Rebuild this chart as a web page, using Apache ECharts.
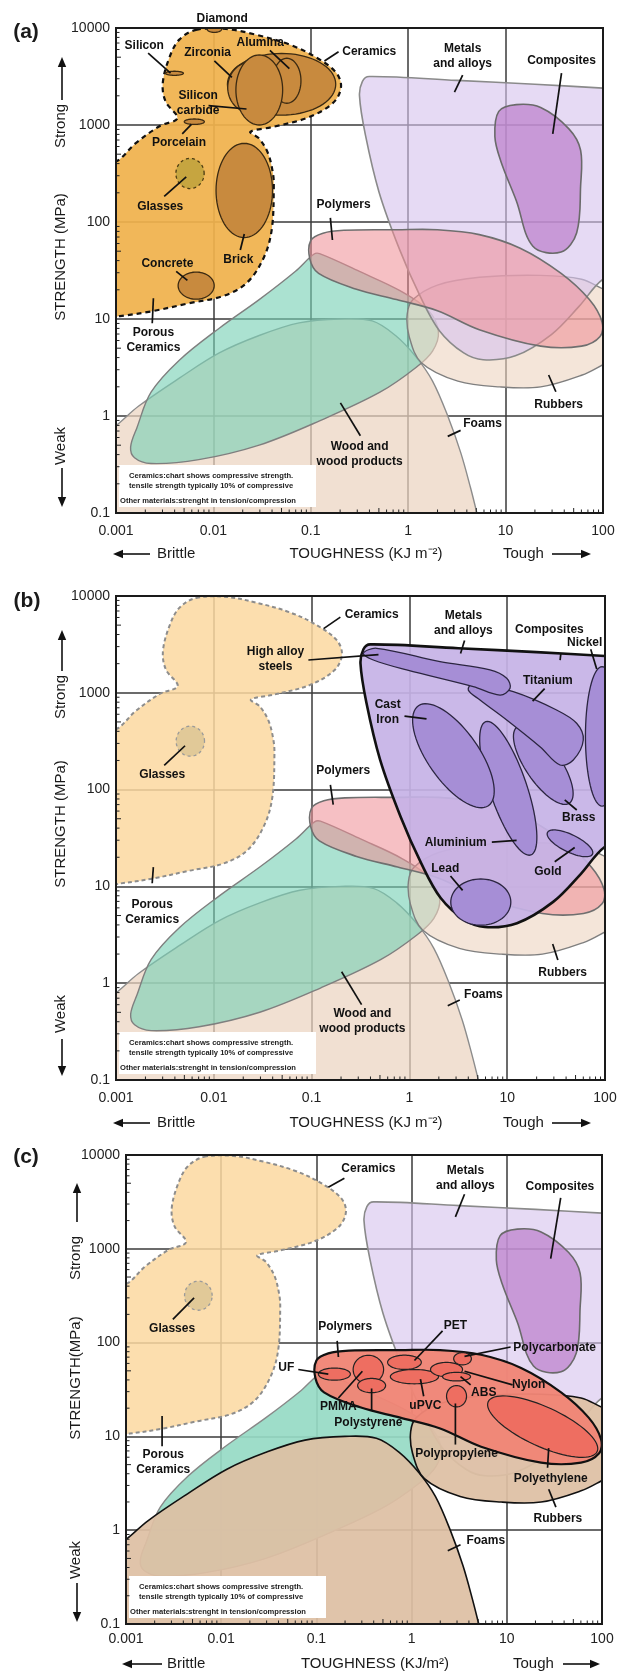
<!DOCTYPE html>
<html><head><meta charset="utf-8">
<script src="https://cdn.jsdelivr.net/npm/echarts@6/dist/echarts.min.js"></script>
<style>html,body{margin:0;padding:0;background:#fff}#c{width:628px;height:1672px}</style>
</head><body><div id="c"></div><script>
// ---------- axis ticks (log10 units on the axes) ----------
const X_TICKS = ['0.001','0.01','0.1','1','10','100'];   // log10 toughness -3..2
const Y_TICKS = ['0.1','1','10','100','1000','10000'];   // log10 strength -1..4
const MINOR_MULT = [2,3,4,5,6,7,8,9];

// ---------- region outlines: [log10 toughness (kJ/m2), log10 strength (MPa)] ----------
const ceramicsOutline = [[-2.18,3.98],[-1.87,3.99],[-1.56,3.93],[-1.22,3.83],[-0.95,3.70],[-0.74,3.54],[-0.69,3.39],[-0.77,3.23],[-1.02,3.08],[-1.39,2.98],[-1.62,2.93],[-1.53,2.86],[-1.44,2.71],[-1.39,2.51],[-1.38,2.37],[-1.40,1.93],[-1.48,1.64],[-1.65,1.38],[-1.89,1.24],[-2.26,1.16],[-2.63,1.08],[-2.96,1.03],[-3.10,1.02],[-3.10,2.58],[-2.97,2.64],[-2.80,2.81],[-2.55,2.99],[-2.37,3.07],[-2.49,3.24],[-2.52,3.43],[-2.45,3.70],[-2.35,3.88]];
const metalsOutline = [[-0.47,3.45],[-0.40,3.50],[0.50,3.46],[1.30,3.42],[2.00,3.38],[2.60,3.34],[2.60,1.75],[2.00,1.41],[1.754,1.13],[1.47,0.84],[1.10,0.62],[0.77,0.58],[0.57,0.65],[0.32,0.88],[0.12,1.24],[-0.09,1.72],[-0.30,2.31],[-0.44,2.90],[-0.50,3.30]];
const compositesOutline = [[1.11,3.21],[1.36,3.18],[1.65,2.96],[1.77,2.74],[1.77,2.37],[1.73,1.89],[1.57,1.69],[1.28,1.75],[1.11,2.22],[0.95,2.63],[0.89,2.88],[0.93,3.14]];
const polymersOutline = [[-1.0,1.81],[-0.875,1.885],[-0.66,1.915],[-0.12,1.92],[0.30,1.92],[0.73,1.87],[1.15,1.73],[1.57,1.47],[1.86,1.20],[1.99,0.97],[1.97,0.82],[1.78,0.72],[1.36,0.72],[0.73,0.89],[0.30,1.085],[-0.12,1.20],[-0.54,1.31],[-0.92,1.47],[-1.01,1.62]];
const rubbersOutline = [[-0.01,1.05],[0.01,0.82],[0.135,0.55],[0.51,0.36],[0.94,0.30],[1.36,0.30],[1.78,0.42],[2.0,0.53],[2.4,0.75],[2.4,1.15],[2.0,1.31],[1.78,1.41],[1.36,1.45],[0.73,1.43],[0.30,1.35],[0.05,1.20]];
const woodOutline = [[-2.85,-0.32],[-2.785,-0.12],[-2.64,0.245],[-2.35,0.575],[-1.94,0.905],[-1.53,1.20],[-1.16,1.49],[-0.97,1.667],[-0.91,1.674],[-0.50,1.49],[-0.08,1.29],[0.205,1.09],[0.31,0.87],[0.25,0.67],[0.08,0.50],[-0.29,0.245],[-0.91,-0.05],[-1.53,-0.30],[-2.15,-0.45],[-2.64,-0.49],[-2.81,-0.43]];
const foamsOutline = [[-3.05,-0.12],[-3.0,-0.10],[-2.77,0.10],[-2.35,0.39],[-1.94,0.65],[-1.53,0.83],[-1.12,0.96],[-0.70,1.00],[-0.37,0.98],[-0.13,0.83],[0.08,0.61],[0.25,0.36],[0.41,-0.01],[0.54,-0.38],[0.64,-0.74],[0.71,-1.02],[0.74,-1.15],[-3.05,-1.15]];
const glassesEllipse = [-2.24,2.50,0.145,0.155,0];   // [cx, cy, rx, ry, angle°] in log10 units

// panel (a): ceramic classes — big ceramics, zirconia, alumina, silicon carbide, silicon, porcelain, diamond, brick, concrete
const ceramicEllipses = [[-1.30,3.42,0.556,0.318,0],[-1.605,3.387,0.248,0.266,0],[-1.246,3.456,0.145,0.232,0],[-1.529,3.361,0.24,0.361,0],[-2.40,3.533,0.092,0.021,0],[-2.196,3.034,0.103,0.028,0],[-1.99,3.99,0.075,0.035,0],[-1.683,2.325,0.29,0.486,0],[-2.177,1.344,0.185,0.14,0]];

// panel (b): metals
const titaniumOutline = [[0.653,3.098],[1.062,3.011],[1.505,2.822],[1.71,2.685],[1.778,2.512],[1.676,2.306],[1.54,2.254],[1.335,2.443],[0.995,2.719],[0.722,2.926],[0.602,3.029]];
const highAlloyOutline = [[-0.471,3.408],[-0.334,3.46],[0.313,3.321],[0.824,3.236],[0.995,3.15],[1.029,3.046],[0.926,2.977],[0.653,3.063],[-0.028,3.236],[-0.369,3.339]];
// brass, aluminium, cast iron, nickel, gold, lead
const metalEllipses = [[1.369,2.254,0.476,0.18,-56],[1.011,2.013,0.726,0.19,-71.5],[0.45,2.35,0.628,0.262,-55.3],[1.97,2.55,0.17,0.72,0],[1.642,1.445,0.256,0.09,-26],[0.73,0.838,0.307,0.239,0]];

// panel (c): polymers — UF, PMMA, polystyrene, PET, uPVC, nylon, ABS, polycarbonate, polypropylene, polyethylene
const polymerEllipses = [[-0.811,1.664,0.168,0.065,0],[-0.454,1.713,0.16,0.152,0],[-0.42,1.542,0.147,0.076,0],[-0.075,1.79,0.177,0.076,0],[0.03,1.637,0.253,0.076,0],[0.367,1.713,0.168,0.076,0],[0.472,1.637,0.147,0.046,0],[0.535,1.828,0.093,0.065,0],[0.472,1.428,0.105,0.114,0],[1.377,1.104,0.631,0.21,-25]];

// ---------- labels: [text, x, y, leader start, leader end] in log10 units ----------
const labelsA = [
 ['Diamond',-1.91,4.10],
 ['Silicon',-2.71,3.82,[-2.67,3.74],[-2.44,3.535]],
 ['Zirconia',-2.06,3.745,[-1.99,3.66],[-1.81,3.49]],
 ['Alumina',-1.52,3.85,[-1.42,3.77],[-1.22,3.58]],
 ['Ceramics',-0.40,3.755,[-0.86,3.66],[-0.715,3.755]],
 ['Silicon\ncarbide',-2.156,3.23,[-2.05,3.20],[-1.66,3.165]],
 ['Porcelain',-2.353,2.816,[-2.32,2.908],[-2.226,3.007]],
 ['Glasses',-2.546,2.161,[-2.505,2.264],[-2.279,2.466]],
 ['Brick',-1.744,1.608,[-1.724,1.711],[-1.683,1.877]],
 ['Concrete',-2.472,1.571,[-2.382,1.491],[-2.267,1.398]],
 ['Porous\nCeramics',-2.616,0.78,[-2.616,1.214],[-2.628,0.957]],
 ['Metals\nand alloys',0.559,3.705,[0.559,3.515],[0.475,3.339]],
 ['Composites',1.574,3.663,[1.574,3.534],[1.484,2.908]],
 ['Polymers',-0.663,2.179,[-0.799,2.042],[-0.778,1.814]],
 ['Rubbers',1.545,0.121,[1.442,0.423],[1.516,0.25]],
 ['Foams',0.764,-0.082,[0.406,-0.21],[0.538,-0.148]],
 ['Wood and\nwood products',-0.499,-0.392,[-0.696,0.135],[-0.491,-0.203]]
];
const labelsB = [
 ['Ceramics',-0.386,3.808,[-0.877,3.663],[-0.706,3.782]],
 ['Metals\nand alloys',0.552,3.717,[0.564,3.541],[0.523,3.405]],
 ['Composites',1.432,3.653,[1.549,3.41],[1.541,3.338]],
 ['Nickel',1.792,3.516,[1.854,3.449],[1.915,3.247]],
 ['High alloy\nsteels',-1.369,3.347,[-1.033,3.339],[-0.316,3.395]],
 ['Titanium',1.416,3.125,[1.383,3.043],[1.26,2.914]],
 ['Cast\nIron',-0.222,2.80,[-0.05,2.759],[0.175,2.73]],
 ['Brass',1.731,1.708,[1.711,1.789],[1.588,1.893]],
 ['Aluminium',0.473,1.449,[0.843,1.458],[1.096,1.475]],
 ['Gold',1.416,1.155,[1.486,1.254],[1.69,1.402]],
 ['Lead',0.367,1.181,[0.42,1.107],[0.544,0.959]],
 ['Polymers',-0.677,2.195,[-0.808,2.048],[-0.779,1.845]],
 ['Glasses',-2.528,2.158,[-2.507,2.25],[-2.294,2.453]],
 ['Porous\nCeramics',-2.63,0.738,[-2.618,1.199],[-2.63,1.033]],
 ['Rubbers',1.567,0.110,[1.465,0.406],[1.518,0.24]],
 ['Foams',0.757,-0.118,[0.392,-0.232],[0.515,-0.174]],
 ['Wood and\nwood products',-0.481,-0.39,[-0.693,0.118],[-0.489,-0.221]]
];
const labelsC = [
 ['Ceramics',-0.454,3.859,[-0.875,3.657],[-0.706,3.752]],
 ['Metals\nand alloys',0.565,3.756,[0.556,3.581],[0.46,3.341]],
 ['Composites',1.558,3.665,[1.566,3.543],[1.461,2.895]],
 ['Glasses',-2.516,2.144,[-2.508,2.247],[-2.285,2.476]],
 ['Polymers',-0.698,2.171,[-0.782,2.018],[-0.769,1.847]],
 ['UF',-1.317,1.732,[-1.19,1.713],[-0.875,1.664]],
 ['PMMA',-0.769,1.313,[-0.769,1.409],[-0.517,1.694]],
 ['Polystyrene',-0.454,1.149,[-0.42,1.275],[-0.42,1.511]],
 ['uPVC',0.144,1.332,[0.127,1.428],[0.093,1.611]],
 ['PET',0.46,2.182,[0.325,2.125],[0.03,1.809]],
 ['Polycarbonate',1.503,1.942,[1.04,1.953],[0.556,1.854]],
 ['Nylon',1.23,1.55,[1.061,1.55],[0.556,1.694]],
 ['ABS',0.758,1.466,[0.62,1.55],[0.514,1.637]],
 ['Polypropylene',0.472,0.818,[0.46,0.913],[0.46,1.351]],
 ['Polyethylene',1.461,0.551,[1.428,0.665],[1.44,0.875]],
 ['Rubbers',1.537,0.124,[1.44,0.437],[1.516,0.246]],
 ['Foams',0.779,-0.108,[0.38,-0.219],[0.514,-0.154]],
 ['Porous\nCeramics',-2.609,0.722,[-2.621,0.894],[-2.621,1.218]]
];
const NOTE_LINES = ['Ceramics:chart shows compressive strength.','tensile strength typically 10% of compressive','Other materials:strenght in tension/compression'];

// ---------- styles / layout ----------
const FONT = '"Liberation Sans", Arial, Helvetica, sans-serif';
const STYLES = {
 foamsA:{fill:'rgba(236,212,192,0.72)',stroke:'#8c8c8c',lineWidth:1.4},
 woodA:{fill:'rgba(120,208,180,0.62)',stroke:'#7f7f7f',lineWidth:1.4},
 rubbersA:{fill:'rgba(236,212,192,0.6)',stroke:'#7f7f7f',lineWidth:1.4},
 metalsA:{fill:'rgba(214,196,238,0.62)',stroke:'#8a8a8a',lineWidth:1.6},
 compA:{fill:'rgba(188,128,204,0.72)',stroke:'#6a6a6a',lineWidth:1.6},
 polyA:{fill:'rgba(238,140,148,0.55)',stroke:'#6f6f6f',lineWidth:1.6},
 ceramA:{fill:'rgba(240,178,76,0.93)',stroke:'#111',lineWidth:2.2,lineDash:[5,4]},
 brown:{fill:'#C88A3E',stroke:'#3b2a12',lineWidth:1.3},
 glassA:{fill:'#C6A540',stroke:'#4b3b12',lineWidth:1.3,lineDash:[3,3]},
 ceramL:{fill:'rgba(252,216,160,0.85)',stroke:'#8d8d8d',lineWidth:2,lineDash:[4,3]},
 glassL:{fill:'rgba(222,198,150,0.9)',stroke:'#9a9a9a',lineWidth:1.3,lineDash:[3,3]},
 metalsB:{fill:'rgba(198,178,230,0.92)',stroke:'#111',lineWidth:2.6},
 subB:{fill:'#A68ED6',stroke:'#2b2540',lineWidth:1.3},
 woodC:{fill:'rgba(150,218,196,0.92)',stroke:'#888',lineWidth:1.4},
 tanC:{fill:'rgba(222,191,164,0.93)',stroke:'#111',lineWidth:1.6},
 polyC:{fill:'rgba(240,133,118,0.96)',stroke:'#111',lineWidth:2.2},
 subC:{fill:'#EE6E61',stroke:'#222',lineWidth:1.2}
};
const grids = [
 {left:116, top:28, width:487, height:485, xMargin:11},
 {left:116, top:596, width:489, height:484, xMargin:11},
 {left:126, top:1155, width:476, height:469, xMargin:8}
];

const layersA = [
 {pts:foamsOutline,st:'foamsA'},{pts:woodOutline,st:'woodA'},{pts:rubbersOutline,st:'rubbersA'},
 {pts:metalsOutline,st:'metalsA'},{pts:compositesOutline,st:'compA'},{pts:polymersOutline,st:'polyA'},
 {pts:ceramicsOutline,st:'ceramA'}
].concat(ceramicEllipses.map(e=>({ell:e,st:'brown'}))).concat([{ell:glassesEllipse,st:'glassA'}]);
const layersB = [
 {pts:foamsOutline,st:'foamsA'},{pts:woodOutline,st:'woodA'},{pts:rubbersOutline,st:'rubbersA'},
 {pts:polymersOutline,st:'polyA'},{pts:ceramicsOutline,st:'ceramL'},{ell:glassesEllipse,st:'glassL'},
 {pts:metalsOutline,st:'metalsB'}
].concat(metalEllipses.slice(0,3).map(e=>({ell:e,st:'subB'})))
 .concat([{pts:titaniumOutline,st:'subB'},{pts:highAlloyOutline,st:'subB'}])
 .concat(metalEllipses.slice(3).map(e=>({ell:e,st:'subB'})));
const layersC = [
 {pts:woodOutline,st:'woodC'},{pts:metalsOutline,st:'metalsA'},{pts:compositesOutline,st:'compA'},
 {pts:foamsOutline,st:'tanC'},{pts:rubbersOutline,st:'tanC'},{pts:polymersOutline,st:'polyC'}
].concat(polymerEllipses.map(e=>({ell:e,st:'subC'})))
 .concat([{pts:ceramicsOutline,st:'ceramL'},{ell:glassesEllipse,st:'glassL'}]);

function ellipsePts(e){
  const [cx,cy,rx,ry,ang]=e, a=ang*Math.PI/180, out=[];
  for(let k=0;k<72;k++){const t=k/72*2*Math.PI,u=rx*Math.cos(t),v=ry*Math.sin(t);
    out.push([cx+u*Math.cos(a)-v*Math.sin(a), cy+u*Math.sin(a)+v*Math.cos(a)]);}
  return out;
}
function shapeSeries(gi, layers){
  return {type:'custom', xAxisIndex:gi, yAxisIndex:gi, clip:true, silent:true, z:2,
    data:layers.map(()=>[0,0]),
    renderItem(params, api){
      const L=layers[params.dataIndex];
      const pts=(L.pts||ellipsePts(L.ell)).map(p=>api.coord(p));
      return {type:'polygon', z2:params.dataIndex, shape:{points:pts, smooth:L.pts?0.35:0}, style:Object.assign({},STYLES[L.st])};
    }};
}
function labelSeries(gi, labels){
  return {type:'custom', xAxisIndex:gi, yAxisIndex:gi, clip:false, silent:true, z:6,
    data:labels.map(()=>[0,0]),
    renderItem(params, api){
      const L=labels[params.dataIndex], p=api.coord([L[1],L[2]]);
      const ch=[{type:'text', x:p[0], y:p[1], style:{text:L[0], font:'bold 12px '+FONT, fill:'#111', align:'center', verticalAlign:'middle', textAlign:'center', textVerticalAlign:'middle', lineHeight:15}}];
      if(L[3]){const a=api.coord(L[3]), b=api.coord(L[4]);
        ch.push({type:'line', shape:{x1:a[0],y1:a[1],x2:b[0],y2:b[1]}, style:{stroke:'#111',lineWidth:1.7}});}
      return {type:'group', children:ch};
    }};
}
function frameSeries(gi){
  return {type:'custom', xAxisIndex:gi, yAxisIndex:gi, clip:false, silent:true, z:5, data:[[0,0]],
    renderItem(params, api){
      const tl=api.coord([-3,4]), br=api.coord([2,-1]), ch=[];
      ch.push({type:'rect', shape:{x:tl[0]+3, y:br[1]-48, width:197, height:42}, style:{fill:'#fff'}});
      const ind=[13,13,4], dy=[-37,-27,-12];
      NOTE_LINES.forEach((t,k)=>ch.push({type:'text', x:tl[0]+ind[k], y:br[1]+dy[k], style:{text:t, font:'bold 7.6px '+FONT, fill:'#222', align:'left', verticalAlign:'middle', textAlign:'left', textVerticalAlign:'middle'}}));
      for(let d=0; d<X_TICKS.length-1; d++) MINOR_MULT.forEach(m=>{
        const x=api.coord([d-3+Math.log10(m),-1])[0];
        ch.push({type:'line', shape:{x1:x,y1:br[1],x2:x,y2:br[1]-(m===5?5:3.5)}, style:{stroke:'#222',lineWidth:1}});});
      for(let d=0; d<Y_TICKS.length-1; d++) MINOR_MULT.forEach(m=>{
        const y=api.coord([-3,d-1+Math.log10(m)])[1];
        ch.push({type:'line', shape:{x1:tl[0],y1:y,x2:tl[0]+(m===5?5:3.5),y2:y}, style:{stroke:'#222',lineWidth:1}});});
      ch.push({type:'rect', shape:{x:tl[0],y:tl[1],width:br[0]-tl[0],height:br[1]-tl[1]}, style:{fill:'none',stroke:'#1a1a1a',lineWidth:2}});
      return {type:'group', children:ch};
    }};
}

// ---------- page texts (panel tags, axis titles, arrows) ----------
const TXT = {font:'15px '+FONT, fill:'#1a1a1a'};
function text(x,y,t,opt){opt=opt||{};return {type:'text', x, y, rotation:opt.rot||0, z:10,
  style:{text:t, font:opt.font||TXT.font, fill:TXT.fill, align:opt.align||'center', verticalAlign:'middle', textAlign:opt.align||'center', textVerticalAlign:'middle'}};}
function arrow(x1,y1,x2,y2){
  const ang=Math.atan2(y2-y1,x2-x1), L=10, W=4.2, bx=x2-L*Math.cos(ang), by=y2-L*Math.sin(ang);
  return [{type:'line', z:10, shape:{x1,y1,x2:bx,y2:by}, style:{stroke:'#111',lineWidth:1.6}},
    {type:'polygon', z:10, shape:{points:[[x2,y2],[bx-W*Math.sin(ang),by+W*Math.cos(ang)],[bx+W*Math.sin(ang),by-W*Math.cos(ang)]]}, style:{fill:'#111'}}];
}
const yTexts = [
 {x:61, strong:126, upTip:57, upTail:100, title:257, weak:446, dnTail:468, dnTip:507, t:'STRENGTH (MPa)'},
 {x:61, strong:697, upTip:630, upTail:671, title:824, weak:1014, dnTail:1039, dnTip:1076, t:'STRENGTH (MPa)'},
 {x:76, strong:1258, upTip:1183, upTail:1222, title:1378, weak:1560, dnTail:1583, dnTip:1622, t:'STRENGTH(MPa)'}
];
const xTexts = [
 {y:554, la:[150,113], brittle:157, title:366, tough:503, ra:[552,591], t:'TOUGHNESS (KJ m\u207B\u00B2)'},
 {y:1123, la:[150,113], brittle:157, title:366, tough:503, ra:[552,591], t:'TOUGHNESS (KJ m\u207B\u00B2)'},
 {y:1664, la:[162,122], brittle:167, title:375, tough:513, ra:[563,600], t:'TOUGHNESS (KJ/m\u00B2)'}
];
const tags = [['(a)',26,32.5],['(b)',27,601],['(c)',26,1157]];
const gfx = [];
tags.forEach(t=>gfx.push(text(t[1],t[2],t[0],{font:'bold 21px '+FONT})));
yTexts.forEach(o=>{
  gfx.push(text(o.x,o.strong,'Strong',{rot:Math.PI/2}));
  gfx.push(text(o.x,o.title,o.t,{rot:Math.PI/2}));
  gfx.push(text(o.x,o.weak,'Weak',{rot:Math.PI/2}));
  gfx.push(...arrow(o.x+1,o.upTail,o.x+1,o.upTip));
  gfx.push(...arrow(o.x+1,o.dnTail,o.x+1,o.dnTip));
});
xTexts.forEach(o=>{
  gfx.push(...arrow(o.la[0],o.y,o.la[1],o.y));
  gfx.push(text(o.brittle,o.y,'Brittle',{align:'left'}));
  gfx.push(text(o.title,o.y,o.t));
  gfx.push(text(o.tough,o.y,'Tough',{align:'left'}));
  gfx.push(...arrow(o.ra[0],o.y,o.ra[1],o.y));
});

const chart = echarts.init(document.getElementById('c'), null, {renderer:'canvas'});
chart.setOption({
  animation:false,
  backgroundColor:'#fff',
  grid: grids.map(g=>({left:g.left, top:g.top, width:g.width, height:g.height, containLabel:false, outerBoundsMode:'none'})),
  xAxis: grids.map((g,i)=>({type:'value', gridIndex:i, min:-3, max:2, interval:1,
    axisLine:{show:false}, axisTick:{show:false},
    splitLine:{show:true, lineStyle:{color:'#3a3a3a', width:1.5}},
    axisLabel:{show:true, showMinLabel:true, showMaxLabel:true, hideOverlap:false, formatter:v=>X_TICKS[Math.round(v+3)], fontSize:14, fontFamily:FONT, color:'#222', margin:g.xMargin}})),
  yAxis: grids.map((g,i)=>({type:'value', gridIndex:i, min:-1, max:4, interval:1,
    axisLine:{show:false}, axisTick:{show:false},
    splitLine:{show:true, lineStyle:{color:'#3a3a3a', width:1.5}},
    axisLabel:{show:true, showMinLabel:true, showMaxLabel:true, hideOverlap:false, formatter:v=>Y_TICKS[Math.round(v+1)], fontSize:14, fontFamily:FONT, color:'#222', margin:6}})),
  series: [
    shapeSeries(0,layersA), frameSeries(0), labelSeries(0,labelsA),
    shapeSeries(1,layersB), frameSeries(1), labelSeries(1,labelsB),
    shapeSeries(2,layersC), frameSeries(2), labelSeries(2,labelsC)
  ],
  graphic:{elements:gfx}
});
</script></body></html>
